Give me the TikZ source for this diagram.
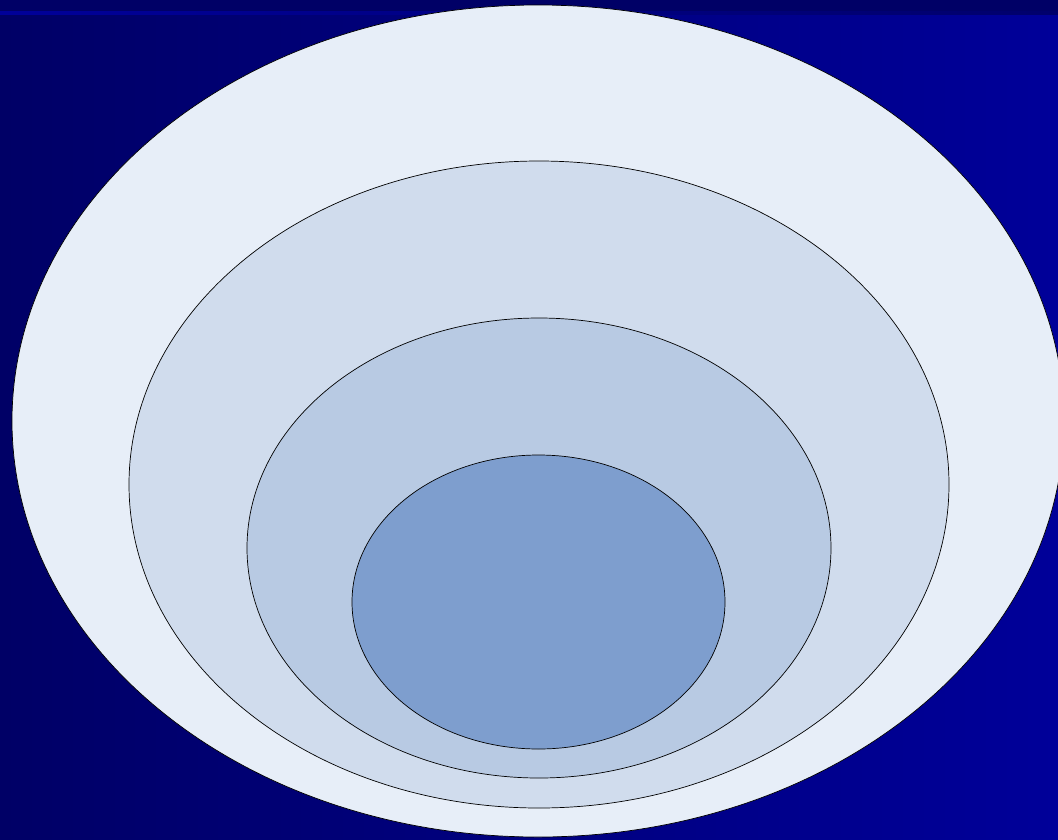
\documentclass[tikz,border=0pt]{standalone}
\begin{document}
\begin{tikzpicture}[x=1pt,y=-1pt,
  ring/.style={draw=black,line width=0.7pt}]
\definecolor{navyL}{HTML}{000066}
\definecolor{navyR}{HTML}{000099}
\definecolor{ringA}{HTML}{E7EEF8}
\definecolor{ringB}{HTML}{D0DCED}
\definecolor{ringC}{HTML}{B8CAE3}
\definecolor{ringD}{HTML}{7E9ECE}
\useasboundingbox (0,0) rectangle (1058,839);
\clip (0,0) rectangle (1058,839);
% background
\shade[left color=navyL,right color=navyR] (0,12) rectangle (1058,839);
\fill[navyL] (0,0) rectangle (1058,11);
\shade[left color=navyR,right color=navyL!90!navyR] (0,11) rectangle (1058,14);
% nested ellipses
\filldraw[ring,fill=ringA] (538,421) ellipse [x radius=526pt,y radius=416pt];
\filldraw[ring,fill=ringB] (539,484.5) ellipse [x radius=410pt,y radius=323.5pt];
\filldraw[ring,fill=ringC] (539,548) ellipse [x radius=292pt,y radius=230pt];
\filldraw[ring,fill=ringD] (538.5,602) ellipse [x radius=186.5pt,y radius=147pt];
\end{tikzpicture}
\end{document}
